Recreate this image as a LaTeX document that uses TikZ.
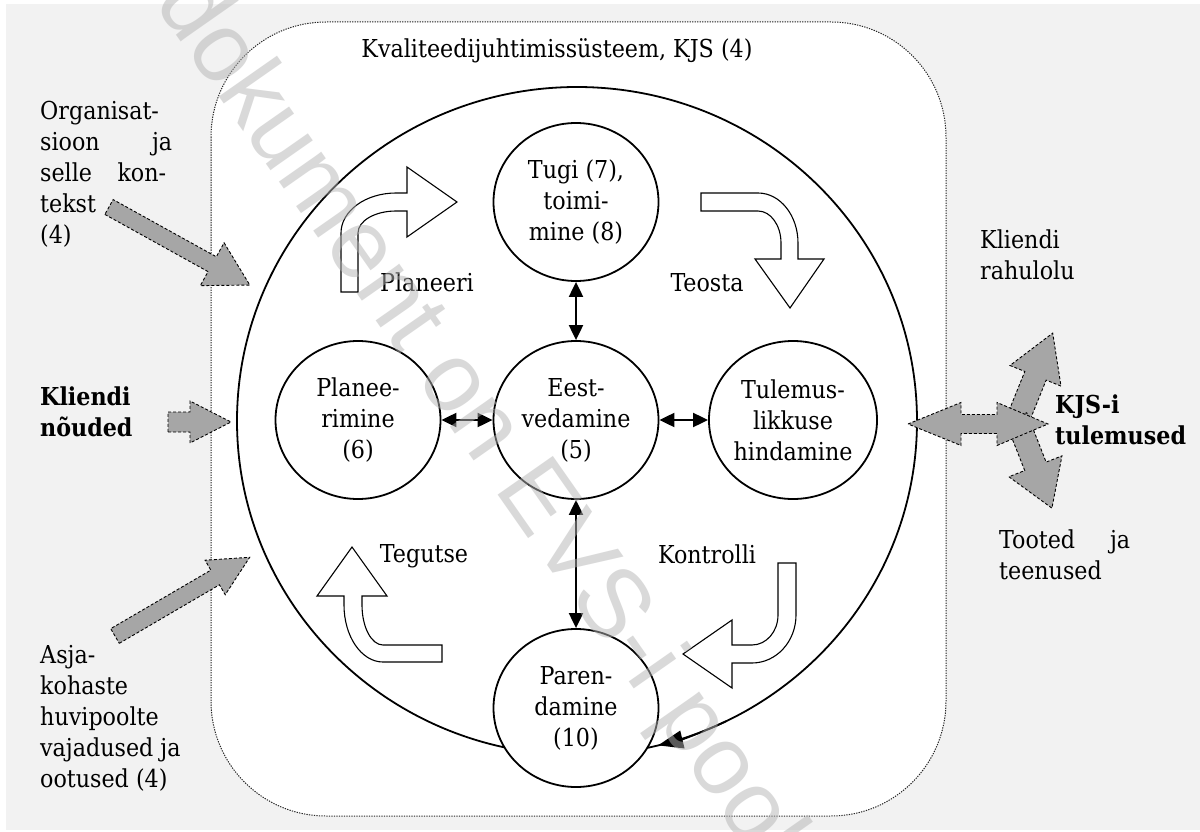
\documentclass[tikz,border=0pt]{standalone}
\usepackage{fontspec}
\setmainfont{DejaVu Serif Condensed}
\newfontfamily\wmfont{Liberation Sans}
\usetikzlibrary{arrows.meta,shapes.geometric}
\definecolor{bggray}{HTML}{F2F2F2}
\definecolor{arrgray}{HTML}{A6A6A6}
\definecolor{wmgray}{HTML}{B4B4B4}
\newcommand{\blkarrow}[7]{%
  \begin{scope}[shift={(#1,#2)},rotate=#3]
    \draw[garrow] (0,{#5/2}) -- ({#4-#7},{#5/2}) -- ({#4-#7},{#6/2}) -- (#4,0)
      -- ({#4-#7},{-#6/2}) -- ({#4-#7},{-#5/2}) -- (0,{-#5/2}) -- cycle;
  \end{scope}}
\begin{document}
\begin{tikzpicture}[x=1pt,y=-1pt,
  txt/.style={inner sep=0pt, font=\fontsize{24.7}{31}\selectfont},
  btxt/.style={inner sep=0pt, font=\fontsize{24.7}{31}\selectfont\bfseries},
  circ/.style={ellipse, draw, line width=1.8pt, fill=white, minimum width=165pt, minimum height=158pt, inner sep=0pt, align=center, font=\fontsize{24.7}{31}\selectfont},
  dbl/.style={line width=2pt, {Triangle[length=15pt,width=14pt]}-{Triangle[length=15pt,width=14pt]}},
  bigc/.style={line width=1.8pt},
  warrow/.style={draw, fill=white, line width=1.1pt},
  garrow/.style={draw, fill=arrgray, line width=0.9pt, dash pattern=on 3pt off 2pt},
  kjsbox/.style={draw=black!85, fill=white, line width=1pt, dash pattern=on 1.3pt off 1.2pt, rounded corners=115pt},
]
\useasboundingbox (0,0) rectangle (1200,832);
\fill[white] (0,0) rectangle (1200,832);
\fill[bggray] (6,4) rectangle (1200,830);
\draw[kjsbox] (211,22) rectangle (946,816);
\node[txt, anchor=base] (title) at (557,58) {Kvaliteedijuhtimissüsteem, KJS (4)};
\coordinate (c) at (577,421);
\draw[bigc] (c) ellipse[x radius=340, y radius=334];
\draw[bigc, -{Triangle[length=25pt,width=18pt]}] (c) ++(64:340 and 334) arc[start angle=64, end angle=76.2, x radius=340, y radius=334];

\node[circ] (tugi) at (576,202) {Tugi (7),\\toimi-\\mine (8)};
\node[circ] (eest) at (576,420) {Eest-\\vedamine\\(5)};
\node[circ] (plan) at (358,420) {Planee-\\rimine\\(6)};
\node[circ] (tul) at (793,420) {Tulemus-\\likkuse\\hindamine};
\node[circ] (par) at (576,708) {Paren-\\damine\\(10)};

\draw[dbl] (tugi) -- (eest);
\draw[dbl] (eest) -- (par);
\draw[dbl] (plan) -- (eest);
\draw[dbl] (eest) -- (tul);

% white block arrows
\draw[warrow] (341,292) -- (341,233) arc[start angle=180,end angle=270,x radius=55,y radius=40] -- (407,193) -- (407,167) -- (457,202) -- (407,237) -- (407,211) -- (396,211) arc[start angle=270,end angle=180,x radius=38,y radius=22] -- (358,292) -- cycle;
\draw[warrow] (701,193) -- (758,193) arc[start angle=270,end angle=360,x radius=40,y radius=50] -- (798,259) -- (824,259) -- (790,308) -- (755,259) -- (781,259) -- (781,243) arc[start angle=0,end angle=-90,x radius=23,y radius=32] -- (701,211) -- cycle;
\draw[warrow] (778,563) -- (796,563) -- (796,615) arc[start angle=0,end angle=90,x radius=44,y radius=48] -- (732,663) -- (732,688) -- (683,654) -- (732,620) -- (732,645) -- (752,645) arc[start angle=90,end angle=0,x radius=26,y radius=30] -- cycle;
\draw[warrow] (442,645) -- (383,645) arc[start angle=90,end angle=180,x radius=21,y radius=40] -- (362,596) -- (387,596) -- (352,547) -- (317,596) -- (344,596) -- (344,605) arc[start angle=180,end angle=90,x radius=39,y radius=57] -- (442,662) -- cycle;

\node[txt, anchor=base] (lplan) at (427,291) {Planeeri};
\node[txt, anchor=base] (lteo) at (707,291) {Teosta};
\node[txt, anchor=base] (lteg) at (424,562) {Tegutse};
\node[txt, anchor=base] (lkon) at (707,563) {Kontrolli};

% gray arrows
\blkarrow{109}{207}{-29}{161}{17}{49}{43}
\blkarrow{168}{422}{0}{63}{20}{42}{41}
\blkarrow{115}{636}{30.3}{156}{17}{40}{40}
\blkarrow{1016}{424}{68}{98}{23}{55}{46}
\blkarrow{1016}{417}{-68.5}{98}{23}{57}{45}
\draw[garrow] (908,424) -- (961,402.5) -- (961,414.5) -- (997,414.5) -- (997,402.5) -- (1048,424) -- (997,445.5) -- (997,433.5) -- (961,433.5) -- (961,445.5) -- cycle;

% outside texts (base = last line)
\node[txt, anchor=base west, align=left] (org) at (40,243) {Organisat-\\\makebox[132pt][l]{sioon\hfill ja}\\\makebox[126pt][l]{selle\hfill kon-}\\tekst\\(4)};
\node[btxt, anchor=base west, align=left] (kn) at (40,436) {Kliendi\\nõuded};
\node[txt, anchor=base west, align=left] (asja) at (40,787) {Asja-\\kohaste\\huvipoolte\\vajadused ja\\ootused (4)};
\node[txt, anchor=base west, align=left] (rah) at (980,279) {Kliendi\\rahulolu};
\node[btxt, anchor=base west, align=left] (kjsr) at (1055,444) {KJS-i\\tulemused};
\node[txt, anchor=base west, align=left] (tooted) at (999,579) {\makebox[131pt][l]{Tooted\hfill ja}\\teenused};

% watermark
\node[font=\wmfont\fontsize{98}{98}\selectfont, text=wmgray, text opacity=0.5, rotate=-55, inner sep=0pt] (wm) at (485,432) {dokument on EVS-i poolt};
\end{tikzpicture}
\end{document}
